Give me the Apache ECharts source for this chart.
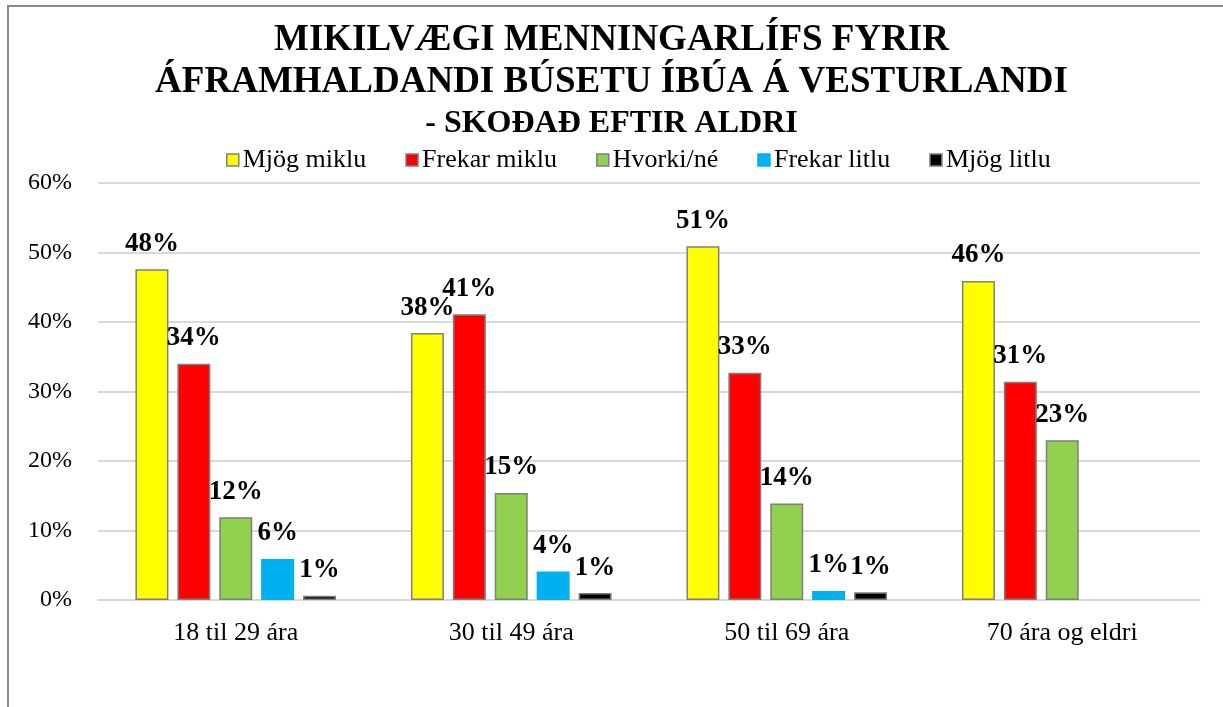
<!DOCTYPE html>
<html>
<head>
<meta charset="utf-8">
<script src="https://cdn.jsdelivr.net/npm/echarts@6/dist/echarts.min.js"></script>
<style>
html,body{margin:0;padding:0;background:#fff;}
#frame{position:absolute;left:7px;top:5px;width:1240px;height:760px;border:2px solid #8a8a8a;box-sizing:border-box;}
#chart{position:absolute;left:0;top:0;width:1223px;height:707px;}
</style>
</head>
<body>
<div id="frame"></div>
<div id="chart"></div>
<script>
const categories = ['18 til 29 ára', '30 til 49 ára', '50 til 69 ára', '70 ára og eldri'];
const seriesNames = ['Mjög miklu', 'Frekar miklu', 'Hvorki/né', 'Frekar litlu', 'Mjög litlu'];
const mjogMiklu   = [47.6, 38.4, 50.9, 45.9];
const frekarMiklu = [34.0, 41.1, 32.7, 31.4];
const hvorkiNe    = [11.9, 15.4, 13.9, 23.0];
const frekarLitlu = [5.9, 4.1, 1.3, null];
const mjogLitlu   = [0.6, 1.0, 1.1, null];
const yTicks = [0, 10, 20, 30, 40, 50, 60];
const titleLine1 = 'MIKILVÆGI MENNINGARLÍFS FYRIR';
const titleLine2 = 'ÁFRAMHALDANDI BÚSETU ÍBÚA Á VESTURLANDI';
const titleLine3 = '- SKOĐAĐ EFTIR ALDRI';

const colors = ['#FFFF00', '#FF0000', '#92D050', '#00B0F0', '#000000'];
const borders = ['#7f7f7f', '#7f7f7f', '#7f7f7f', '#00B0F0', '#7f7f7f'];
const allData = [mjogMiklu, frekarMiklu, hvorkiNe, frekarLitlu, mjogLitlu];
const serif = '"Liberation Serif", "Times New Roman", serif';

const chart = echarts.init(document.getElementById('chart'), null, {renderer: 'canvas'});
chart.setOption({
  animation: false,
  backgroundColor: 'transparent',
  title: [
    {text: titleLine1, left: 'center', top: 17, textStyle: {fontFamily: serif, fontWeight: 'bold', fontSize: 37, color: '#000'}},
    {text: titleLine2, left: 'center', top: 59, textStyle: {fontFamily: serif, fontWeight: 'bold', fontSize: 37, color: '#000'}},
    {text: titleLine3, left: 'center', top: 103, textStyle: {fontFamily: serif, fontWeight: 'bold', fontSize: 32, color: '#000'}}
  ],
  legend: {
    data: seriesNames.map((n, i) => ({name: n, itemStyle: {color: colors[i], borderColor: borders[i], borderWidth: 1.5}})),
    left: 221, top: 142,
    itemWidth: 12, itemHeight: 12, itemGap: 39,
    icon: 'rect',
    textStyle: {fontFamily: serif, fontSize: 26, color: '#000', padding: [0, 0, 0, -1]}
  },
  grid: {left: 98, right: 23, top: 183, bottom: 107, containLabel: false},
  xAxis: {
    type: 'category', data: categories,
    axisTick: {show: false},
    axisLine: {lineStyle: {color: '#d9d9d9', width: 2}},
    axisLabel: {fontFamily: serif, fontSize: 26, color: '#000', margin: 20}
  },
  yAxis: {
    type: 'value', min: yTicks[0], max: yTicks[yTicks.length - 1], interval: 10,
    axisLine: {show: false}, axisTick: {show: false},
    splitLine: {lineStyle: {color: '#d9d9d9', width: 2}},
    axisLabel: {fontFamily: serif, fontSize: 24, color: '#000', margin: 26, formatter: v => v + '%'}
  },
  series: seriesNames.map((n, i) => ({
    name: n, type: 'bar', data: allData[i],
    barWidth: 33, barGap: '27%',
    itemStyle: {color: colors[i], borderColor: borders[i], borderWidth: 1.5},
    label: {
      show: true, position: 'top', distance: 12,
      fontFamily: serif, fontWeight: 'bold', fontSize: 27, color: '#000',
      formatter: p => (p.value == null ? '' : Math.round(p.value) + '%')
    }
  }))
});
</script>
</body>
</html>
